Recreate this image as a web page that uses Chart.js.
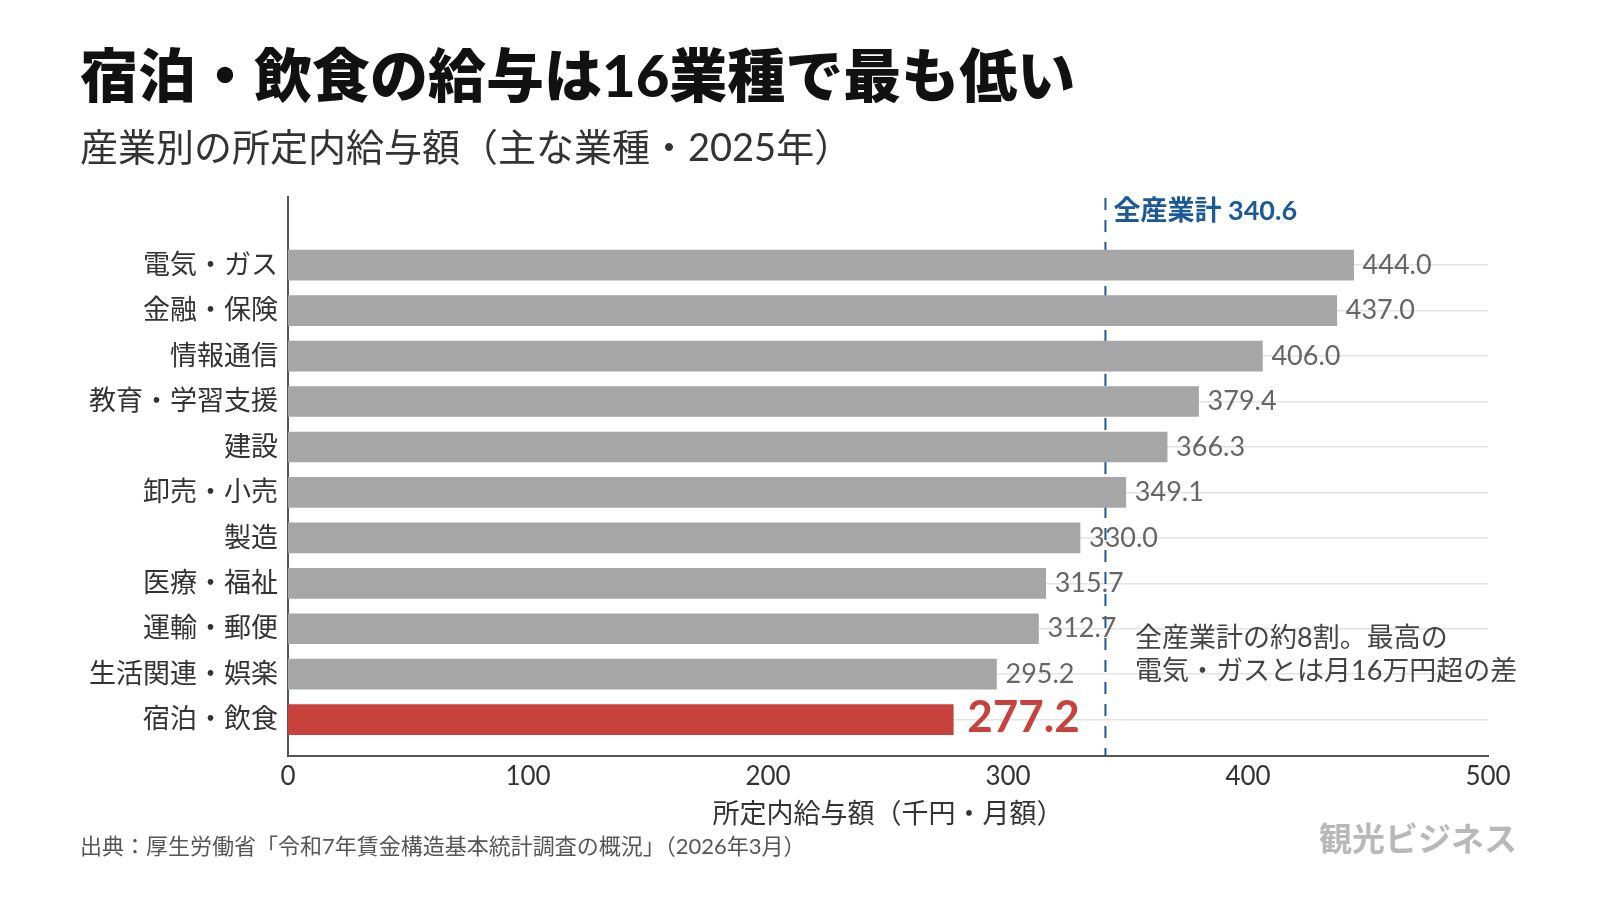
<!DOCTYPE html>
<html lang="ja">
<head>
<meta charset="utf-8">
<title>宿泊・飲食の給与は16業種で最も低い</title>
<script src="https://cdn.jsdelivr.net/npm/chart.js@4.4.1/dist/chart.umd.min.js"></script>
<style>
  html, body { margin: 0; padding: 0; background: #fff; }
  #wrap { width: 1600px; height: 900px; }
</style>
</head>
<body>
<div id="wrap"><canvas id="wageChart" width="1600" height="900"></canvas></div>
<script>
  "use strict";

  // 産業別の所定内給与額（千円・月額, 2025年）
  const industries = [
    "電気・ガス", "金融・保険", "情報通信", "教育・学習支援", "建設", "卸売・小売",
    "製造", "医療・福祉", "運輸・郵便", "生活関連・娯楽", "宿泊・飲食",
  ];
  const wages = [444.0, 437.0, 406.0, 379.4, 366.3, 349.1, 330.0, 315.7, 312.7, 295.2, 277.2];
  const allIndustryTotal = 340.6;
  const highlighted = "宿泊・飲食";
  const xTicks = [0, 100, 200, 300, 400, 500];

  const FONT = "Lato, 'Noto Sans CJK JP', sans-serif";
  const GRAY_BAR = "#a6a6a6";
  const RED = "#c8423d";
  const BLUE = "#1b5a97";

  Chart.defaults.font.family = FONT;

  const refLine = {
    id: "refLine",
    beforeDatasetsDraw(chart) {
      const { ctx, chartArea, scales } = chart;
      const x = scales.x.getPixelForValue(allIndustryTotal);
      ctx.save();
      ctx.strokeStyle = BLUE;
      ctx.lineWidth = 2;
      ctx.setLineDash([12, 10]);
      ctx.beginPath();
      ctx.moveTo(x, chartArea.top + 1);
      ctx.lineTo(x, chartArea.bottom);
      ctx.stroke();
      ctx.restore();
    },
    afterDatasetsDraw(chart) {
      const { ctx, scales } = chart;
      const x = scales.x.getPixelForValue(allIndustryTotal);
      ctx.save();
      ctx.fillStyle = BLUE;
      ctx.font = "bold 27px " + FONT;
      ctx.textAlign = "left";
      ctx.textBaseline = "middle";
      ctx.fillText("全産業計 " + allIndustryTotal.toFixed(1), x + 8, 211);
      ctx.restore();
    },
  };

  const valueLabels = {
    id: "valueLabels",
    afterDatasetsDraw(chart) {
      const { ctx } = chart;
      const meta = chart.getDatasetMeta(0);
      ctx.save();
      ctx.textAlign = "left";
      ctx.textBaseline = "middle";
      meta.data.forEach((bar, i) => {
        const text = wages[i].toFixed(1);
        if (industries[i] === highlighted) {
          ctx.fillStyle = RED;
          ctx.font = "bold 44px " + FONT;
          ctx.fillText(text, bar.x + 14, bar.y - 2);
        } else {
          ctx.fillStyle = "#666";
          ctx.font = "27px " + FONT;
          ctx.fillText(text, bar.x + 9, bar.y);
        }
      });
      ctx.restore();
    },
  };

  const pageText = {
    id: "pageText",
    afterDraw(chart) {
      const { ctx } = chart;
      ctx.save();
      ctx.textAlign = "left";
      ctx.textBaseline = "middle";

      ctx.fillStyle = "#111";
      ctx.font = "900 58px " + FONT;
      ctx.fillText("宿泊・飲食の給与は16業種で最も低い", 80, 78);

      ctx.fillStyle = "#333";
      ctx.font = "38px " + FONT;
      ctx.fillText("産業別の所定内給与額（主な業種・2025年）", 80, 149);

      ctx.fillStyle = "#444";
      ctx.font = "27px " + FONT;
      ctx.fillText("全産業計の約8割。最高の", 1135, 638);
      ctx.fillText("電気・ガスとは月16万円超の差", 1135, 671);

      ctx.fillStyle = "#555";
      ctx.font = "22px " + FONT;
      ctx.fillText("出典：厚生労働省「令和7年賃金構造基本統計調査の概況」（2026年3月）", 80, 847);

      ctx.fillStyle = "#b8b8b8";
      ctx.font = "bold 33px " + FONT;
      ctx.textAlign = "right";
      ctx.fillText("観光ビジネス", 1517, 840);
      ctx.restore();
    },
  };

  new Chart(document.getElementById("wageChart"), {
    type: "bar",
    data: {
      datasets: [
        {
          data: wages.map((v, i) => ({ x: v, y: i })),
          backgroundColor: industries.map((name) => (name === highlighted ? RED : GRAY_BAR)),
          barThickness: 30,
          borderWidth: 0,
        },
      ],
    },
    options: {
      indexAxis: "y",
      responsive: false,
      animation: false,
      layout: {
        padding: { top: 197, right: 112, bottom: 70, left: 0 },
      },
      plugins: {
        legend: { display: false },
        tooltip: { enabled: false },
      },
      scales: {
        x: {
          type: "linear",
          min: xTicks[0],
          max: xTicks[xTicks.length - 1],
          afterBuildTicks(scale) {
            scale.ticks = xTicks.map((v) => ({ value: v }));
          },
          afterFit(scale) {
            scale.height = 74;
          },
          grid: { display: false },
          border: { display: true, color: "#555", width: 2 },
          ticks: {
            color: "#333",
            font: { size: 26 },
            padding: -3,
          },
          title: {
            display: true,
            text: "所定内給与額（千円・月額）",
            color: "#333",
            font: { size: 27 },
            padding: { top: 0, bottom: 0 },
          },
        },
        y: {
          type: "linear",
          reverse: true,
          offset: false,
          min: -1.5,
          max: 10.8,
          afterBuildTicks(scale) {
            scale.ticks = industries.map((_, i) => ({ value: i }));
          },
          afterFit(scale) {
            scale.width = 288;
          },
          grid: {
            offset: false,
            color: "#e3e3e3",
            lineWidth: 1.5,
            drawTicks: false,
          },
          border: { display: true, color: "#555", width: 2 },
          ticks: {
            autoSkip: false,
            color: "#333",
            font: { size: 27 },
            padding: 10,
            callback: (value) => industries[value] || "",
          },
        },
      },
    },
    plugins: [refLine, valueLabels, pageText],
  });
</script>
</body>
</html>
